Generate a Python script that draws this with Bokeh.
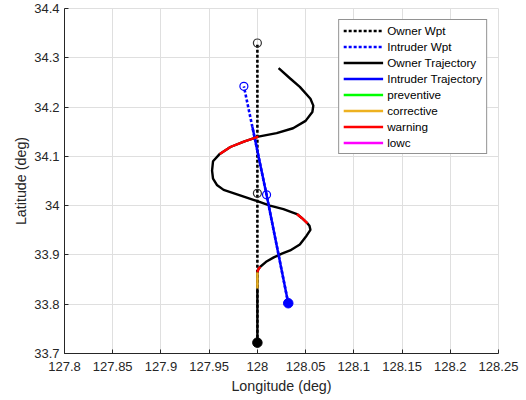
from bokeh.plotting import figure
from bokeh.models import FixedTicker, Range1d
from bokeh.embed import file_html
from bokeh.resources import INLINE

# ---- data ----
x_ticks = [127.8, 127.85, 127.9, 127.95, 128.0, 128.05, 128.1, 128.15, 128.2, 128.25]
x_tick_labels = ["127.8", "127.85", "127.9", "127.95", "128", "128.05", "128.1", "128.15", "128.2", "128.25"]
y_ticks = [33.7, 33.8, 33.9, 34.0, 34.1, 34.2, 34.3, 34.4]
y_tick_labels = ["33.7", "33.8", "33.9", "34", "34.1", "34.2", "34.3", "34.4"]

owner_wpt_lon = [128.0, 128.0, 128.0]
owner_wpt_lat = [33.722, 34.025, 34.330]
intruder_wpt_lon = [128.032, 128.0095, 127.986]
intruder_wpt_lat = [33.802, 34.022, 34.242]

owner_lon = [128.000, 128.000, 128.000, 128.001, 128.003, 128.009, 128.017, 128.026, 128.034,
             128.044, 128.051, 128.055, 128.054, 128.052, 128.046, 128.041, 128.027, 128.013,
             128.000, 127.982, 127.965, 127.958, 127.954, 127.953, 127.954, 127.961, 127.972,
             127.986, 128.001, 128.020, 128.037, 128.050, 128.057, 128.058, 128.055, 128.044,
             128.034, 128.022]
owner_lat = [33.722, 33.832, 33.865, 33.871, 33.876, 33.886, 33.895, 33.903, 33.909,
             33.921, 33.939, 33.951, 33.959, 33.964, 33.975, 33.983, 33.993, 34.000,
             34.009, 34.021, 34.032, 34.042, 34.055, 34.071, 34.090, 34.105, 34.119,
             34.130, 34.140, 34.147, 34.157, 34.172, 34.190, 34.203, 34.217, 34.241,
             34.258, 34.279]

intruder_lon = [128.032, 128.0095, 127.9948]
intruder_lat = [33.802, 34.022, 34.160]

# alert segments as (first index, last index) into the owner trajectory
preventive_segments = []
corrective_segments = [(1, 2)]
warning_segments = [(2, 4), (13, 15), (25, 28)]
lowc_segments = []

# ---- styling ----
FONT = "Liberation Sans"
DARK = "#262626"
GRID = "#dfdfdf"

p = figure(width=524, height=399, output_backend="svg", toolbar_location=None,
           x_range=Range1d(127.8, 128.25), y_range=Range1d(33.7, 34.4),
           min_border_left=64, min_border_right=26, min_border_top=8, min_border_bottom=46,
           background_fill_color="white", border_fill_color="white")
p.outline_line_color = GRID

p.xaxis.ticker = FixedTicker(ticks=x_ticks)
p.yaxis.ticker = FixedTicker(ticks=y_ticks)
p.xaxis.major_label_overrides = {t: l for t, l in zip(x_ticks, x_tick_labels)}
p.yaxis.major_label_overrides = {t: l for t, l in zip(y_ticks, y_tick_labels)}
p.xaxis.axis_label = "Longitude (deg)"
p.yaxis.axis_label = "Latitude (deg)"
for ax in (p.xaxis, p.yaxis):
    ax.major_tick_in = 4
    ax.major_tick_out = 0
    ax.minor_tick_in = 0
    ax.minor_tick_out = 0
    ax.axis_line_color = DARK
    ax.major_tick_line_color = DARK
    ax.major_label_text_color = DARK
    ax.major_label_text_font = FONT
    ax.major_label_text_font_size = "13px"
    ax.axis_label_text_font = FONT
    ax.axis_label_text_font_size = "14.3px"
    ax.axis_label_text_font_style = "normal"
    ax.axis_label_text_color = DARK
p.yaxis.major_label_standoff = 5
p.xaxis.major_label_standoff = 8
p.yaxis.axis_label_standoff = 2
p.xaxis.axis_label_standoff = 4

p.xgrid.ticker = FixedTicker(ticks=x_ticks)
p.ygrid.ticker = FixedTicker(ticks=y_ticks)
p.grid.grid_line_color = GRID
p.grid.grid_line_width = 1

NAN = float("nan")

# waypoint lines
p.line(owner_wpt_lon, owner_wpt_lat, color="black", line_width=2.6, line_dash="3 2",
       legend_label="Owner Wpt")
p.line(intruder_wpt_lon, intruder_wpt_lat, color="#0000ff", line_width=2.6, line_dash="3 2",
       legend_label="Intruder Wpt")
p.scatter(owner_wpt_lon[1:], owner_wpt_lat[1:], marker="circle", size=8,
          fill_color=None, line_color="#333333", line_width=1.2)
p.scatter(intruder_wpt_lon[1:], intruder_wpt_lat[1:], marker="circle", size=8,
          fill_color=None, line_color="#0000ff", line_width=1.2)

# trajectories
p.line(owner_lon, owner_lat, color="black", line_width=2.4, legend_label="Owner Trajectory")
p.line(intruder_lon, intruder_lat, color="#0000ff", line_width=2.4,
       legend_label="Intruder Trajectory")


def seg(segs):
    if not segs:
        return [[NAN]], [[NAN]]
    xs = [owner_lon[a:b + 1] for a, b in segs]
    ys = [owner_lat[a:b + 1] for a, b in segs]
    return xs, ys


for segs, col, lab in [(preventive_segments, "#00ff00", "preventive"),
                       (corrective_segments, "#edb120", "corrective"),
                       (warning_segments, "#ff0000", "warning"),
                       (lowc_segments, "#ff00ff", "lowc")]:
    xs, ys = seg(segs)
    p.multi_line(xs, ys, line_color=col, line_width=2.4, legend_label=lab)

# start markers
p.scatter([owner_lon[0]], [owner_lat[0]], marker="circle", size=9.5, color="black")
p.scatter([intruder_lon[0]], [intruder_lat[0]], marker="circle", size=9.5, color="#0000ff")

lg = p.legend[0]
lg.location = "top_right"
lg.margin = 11
lg.padding = 4
lg.spacing = 3
lg.glyph_width = 40
lg.glyph_height = 13
lg.label_height = 13
lg.label_standoff = 4
lg.label_text_font = FONT
lg.label_text_font_size = "11.7px"
lg.label_text_color = "black"
lg.border_line_color = DARK
lg.border_line_width = 1
lg.background_fill_color = "white"
lg.background_fill_alpha = 1.0

open("out.html", "w").write(file_html(p, INLINE))
